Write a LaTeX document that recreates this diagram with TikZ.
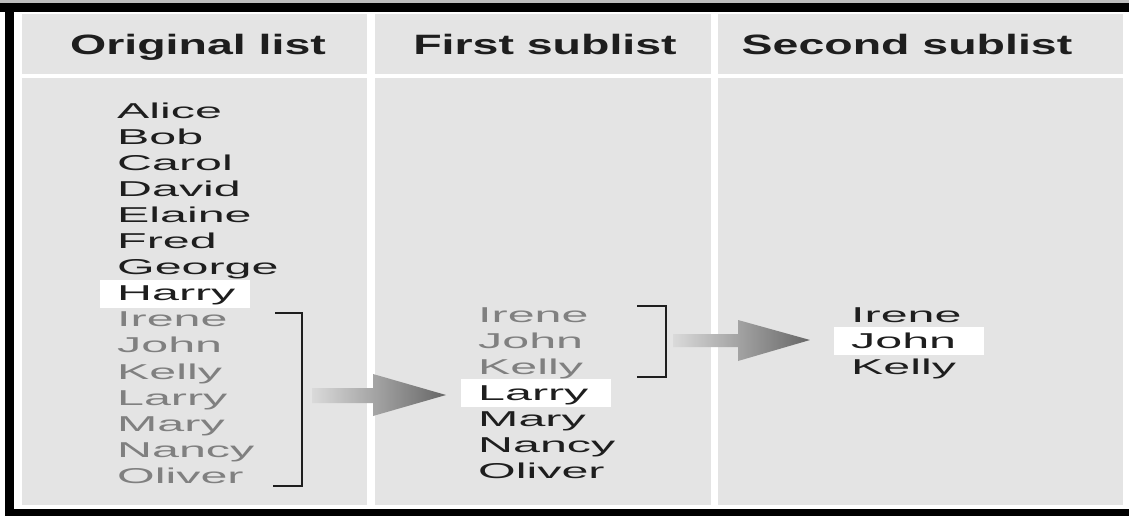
\documentclass[tikz,border=0pt]{standalone}
\usepackage{fontspec}
\setmainfont{Liberation Sans}
\newfontfamily\headfont[FakeStretch=1.66]{Liberation Sans}
\newfontfamily\namefont[FakeStretch=2.25]{Liberation Sans}
\definecolor{panelgray}{HTML}{E4E4E4}
\definecolor{framegray}{HTML}{BDBDBD}
\definecolor{inkdark}{HTML}{1E1E1E}
\definecolor{inkfade}{HTML}{808080}
\definecolor{arrowlight}{HTML}{DADADA}
\definecolor{arrowdark}{HTML}{666666}
\begin{document}
\begin{tikzpicture}[x=1pt,y=-1pt,
	heading/.style={anchor=base, text=inkdark, font=\headfont\fontsize{28}{30}\selectfont\bfseries},
	entry/.style={anchor=base west, inner xsep=17pt, inner ysep=0pt, text width=116pt, text height=21pt, text depth=7pt, text=inkdark, font=\namefont\fontsize{21.5}{26}\selectfont},
	faded/.style={entry, text=inkfade},
	picked/.style={entry, fill=white},
	bracketline/.style={draw=inkdark, line width=2pt},
	blockarrow/.style={left color=arrowlight, right color=arrowdark}]
	\useasboundingbox (0,0) rectangle (1129,516);
	% frame
	\fill[framegray] (0,0) rectangle (1129,3);
	\fill[black] (0,3) rectangle (1129,12);
	\fill[black] (5,3) rectangle (14,516);
	\fill[black] (5,509) rectangle (1129,516);
	% panels
	\foreach \xa/\xb in {22/367, 375/711, 718/1123} {
		\fill[panelgray] (\xa,14) rectangle (\xb,74);
		\fill[panelgray] (\xa,78) rectangle (\xb,505);
	}
	\node[heading] (h1) at (198,55) {Original list};
	\node[heading] (h2) at (545,55) {First sublist};
	\node[heading] (h3) at (907,55) {Second sublist};
	% original list
	\foreach \nm [count=\i from 0] in {Alice,Bob,Carol,David,Elaine,Fred,George}
		\node[entry] (o\i) at (100,{118+26.1*\i}) {\nm};
	\node[picked] (o7) at (100,300.7) {Harry};
	\foreach \nm [count=\i from 8] in {Irene,John,Kelly,Larry,Mary,Nancy,Oliver}
		\node[faded] (o\i) at (100,{118+26.1*\i}) {\nm};
	% first sublist
	\foreach \nm [count=\i from 0] in {Irene,John,Kelly}
		\node[faded] (f\i) at (461,{322+26*\i}) {\nm};
	\node[picked] (f3) at (461,400) {Larry};
	\foreach \nm [count=\i from 4] in {Mary,Nancy,Oliver}
		\node[entry] (f\i) at (461,{322+26*\i}) {\nm};
	% second sublist
	\node[entry] (s0) at (834,322) {Irene};
	\node[picked] (s1) at (834,348) {John};
	\node[entry] (s2) at (834,374) {Kelly};
	% brackets
	\draw[bracketline] (275,313) -- (302,313) -- (302,486) -- (273,486);
	\draw[bracketline] (637,306) -- (666,306) -- (666,377) -- (637,377);
	% arrows
	\shade[blockarrow] (312,388) -- (373,388) -- (373,374) -- (446,395) -- (373,416) -- (373,403) -- (312,403) -- cycle;
	\shade[blockarrow] (673,334) -- (738,334) -- (738,320) -- (810,340) -- (738,361) -- (738,347) -- (673,347) -- cycle;
\end{tikzpicture}
\end{document}
